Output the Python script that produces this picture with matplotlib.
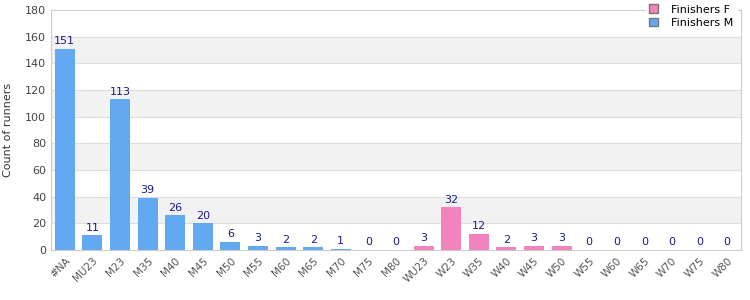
import numpy as np
import matplotlib.pyplot as plt
from matplotlib.patches import Patch

categories = ['#NA', 'MU23', 'M23', 'M35', 'M40', 'M45', 'M50', 'M55', 'M60', 'M65',
              'M70', 'M75', 'M80', 'WU23', 'W23', 'W35', 'W40', 'W45', 'W50', 'W55',
              'W60', 'W65', 'W70', 'W75', 'W80']
values = [151, 11, 113, 39, 26, 20, 6, 3, 2, 2, 1, 0, 0,
          3, 32, 12, 2, 3, 3, 0, 0, 0, 0, 0, 0]
gender = ['M'] * 13 + ['F'] * 12

col_m = '#62a9f2'
col_f = '#f283bd'
colors = [col_m if g == 'M' else col_f for g in gender]

fig = plt.figure(figsize=(7.5, 3), dpi=100)
ax = fig.add_axes([0.068, 0.167, 0.92, 0.8])

x = np.arange(len(categories))
ax.set_xlim(-0.5, len(categories) - 0.5)
ax.set_ylim(0, 180)

# alternating bands
for lo in range(20, 180, 40):
    ax.axhspan(lo, lo + 20, color='#f2f2f2', zorder=0, lw=0)
for y in range(20, 180, 20):
    ax.axhline(y, color='#dddddd', lw=0.8, zorder=0.5)

ax.bar(x, values, width=0.72, color=colors, zorder=2)
for xi, v in zip(x, values):
    ax.text(xi, v + 2, str(v), ha='center', va='bottom', fontsize=8, color='#1a1a8a')

ax.set_xticks(x)
ax.set_xticklabels(categories, rotation=45, ha='right', rotation_mode='anchor',
                   fontsize=7.5, color='#555555')
ax.set_yticks(range(0, 181, 20))
ax.tick_params(axis='y', labelsize=8, colors='#444444', length=0)
ax.tick_params(axis='x', length=0, pad=4)
ax.set_ylabel('Count of runners', fontsize=8, color='#333333', labelpad=9)
for s in ax.spines.values():
    s.set_color('#cccccc')

handles = [Patch(facecolor=col_f, edgecolor='#777777', label='Finishers F'),
           Patch(facecolor=col_m, edgecolor='#777777', label='Finishers M')]
leg = fig.legend(handles=handles, loc='upper right', bbox_to_anchor=(0.99, 1.015),
                 fontsize=8, frameon=True, handlelength=0.8, handleheight=0.8,
                 labelspacing=0.3, handletextpad=1.2, borderpad=0.3)
leg.get_frame().set_edgecolor('white')
leg.get_frame().set_facecolor('white')
leg.get_frame().set_alpha(1)

fig.savefig('out.png', dpi=100)
